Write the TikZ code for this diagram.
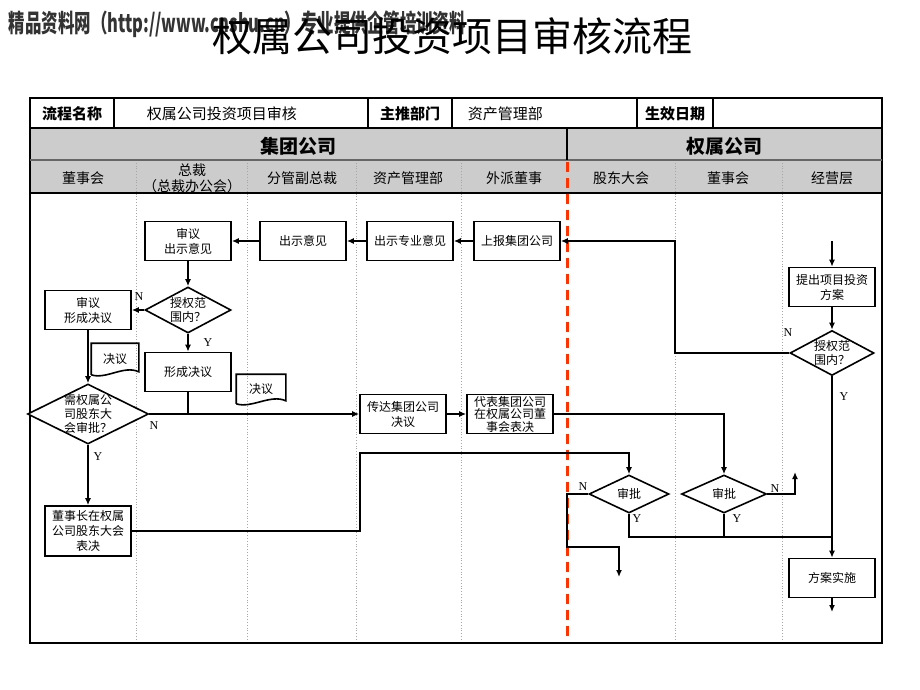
\documentclass[tikz,border=0pt]{standalone}
\usepackage{fontspec}
\setmainfont{Noto Sans CJK SC}
\newfontfamily\ynfont{Liberation Serif}
\usetikzlibrary{arrows.meta,calc,positioning,shapes.geometric}
\definecolor{dashred}{RGB}{255,51,0}

\begin{document}
\begin{tikzpicture}[
    x=1pt, y=-1pt, line width=1.6pt, >={Latex[length=7pt,width=6pt]},
    proc/.style={draw, fill=white, minimum width=86pt, minimum height=39pt,
      inner sep=1pt, align=center, font=\fontsize{12}{15}\selectfont},
    dec/.style={draw, fill=white, diamond, inner sep=0pt},
    dtxt/.style={align=center, inner sep=0pt, font=\fontsize{12}{14}\selectfont},
    doc/.style={inner sep=0pt, minimum width=46pt, minimum height=30pt,
      font=\fontsize{12}{14}\selectfont},
    yn/.style={inner sep=0pt, font=\ynfont\fontsize{12}{12}\selectfont},
    head/.style={inner sep=0pt, font=\bfseries\fontsize{15}{15}\selectfont},
    lane/.style={inner sep=0pt, align=center, font=\fontsize{14}{16}\selectfont},
    sep/.style={draw=gray!70, line width=0.8pt, dotted},
  ]

  \useasboundingbox (0,0) rectangle (920,690);

  % title
  \node[anchor=west, inner sep=0pt, text=black!80,
    font=\bfseries\fontsize{25}{25}\selectfont] (wm) at (8,24)
    {\resizebox{457pt}{\height}{精品资料网（http://www.cnshu.cn）专业提供企管培训资料}};
  \node[inner sep=0pt, font=\fontsize{40}{40}\selectfont] (title) at (452,36)
    {权属公司投资项目审核流程};

  % table
  \fill[black!20] (30,128) rectangle (882,193);
  \foreach \x in {136,247,356,461,675,782}
    \draw[sep] (\x,160) -- (\x,643);
  \draw[dashred, line width=3pt, dash pattern=on 10pt off 6pt] (567,162) -- (567,637);
  \draw[line width=2.4pt] (30,98) rectangle (882,643);
  \draw (30,128) -- (882,128);
  \draw[line width=1.2pt, black!60] (30,160) -- (882,160);
  \draw[line width=2pt] (30,193) -- (882,193);
  \foreach \x in {114,368,452,637,713}
    \draw[line width=1.2pt] (\x,98) -- (\x,128);
  \draw[line width=1.2pt] (567,128) -- (567,160);

  \node[head] (h1) at (72,114) {流程名称};
  \node[lane, anchor=west, font=\fontsize{15}{15}\selectfont] (h2) at (146,114) {权属公司投资项目审核};
  \node[head] (h3) at (410,114) {主推部门};
  \node[lane, anchor=west, font=\fontsize{15}{15}\selectfont] (h4) at (467,114) {资产管理部};
  \node[head] (h5) at (675,114) {生效日期};
  \node[head, font=\bfseries\fontsize{19}{19}\selectfont] (g1) at (298,146) {集团公司};
  \node[head, font=\bfseries\fontsize{19}{19}\selectfont] (g2) at (724,146) {权属公司};

  \node[lane] (l1) at (83,178) {董事会};
  \node[lane] (l2) at (192,178) {总裁\\（总裁办公会）};
  \node[lane] (l3) at (302,178) {分管副总裁};
  \node[lane] (l4) at (408,178) {资产管理部};
  \node[lane] (l5) at (514,178) {外派董事};
  \node[lane] (l6) at (621,178) {股东大会};
  \node[lane] (l7) at (728,178) {董事会};
  \node[lane] (l8) at (832,178) {经营层};

  % group
  \node[proc] (sy1) at (188,241) {审议\\出示意见};
  \node[proc] (csyj) at (303,241) {出示意见};
  \node[proc] (czzy) at (410,241) {出示专业意见};
  \node[proc] (sbjt) at (517,241) {上报集团公司};
  \node[dec, minimum width=86pt, minimum height=46pt,
    label={[dtxt]center:授权范\\围内？}] (d1) at (188,310) {};
  \node[proc] (sy2) at (88,310) {审议\\形成决议};
  \node[proc] (xcjy) at (188,372) {形成决议};
  \node[doc] (jy1) at (115,359) {决议};
  \node[doc, minimum width=48pt, minimum height=28pt] (jy2) at (261,389) {决议};
  \node[dec, minimum width=121pt, minimum height=60pt,
    label={[dtxt]center:需权属公\\司股东大\\会审批？}] (d2) at (88,414) {};
  \node[proc] (cdjt) at (403,414) {传达集团公司\\决议};
  \node[proc, font=\fontsize{12}{12.5}\selectfont] (dbjt) at (510,414)
    {代表集团公司\\在权属公司董\\事会表决};
  \node[proc, minimum height=50pt] (dsz) at (88,531) {董事长在权属\\公司股东大会\\表决};

  % subsidiary
  \node[dec, minimum width=80pt, minimum height=38pt,
    label={[dtxt]center:审批}] (sp1) at (629,494) {};
  \node[dec, minimum width=85pt, minimum height=38pt,
    label={[dtxt]center:审批}] (sp2) at (724,494) {};
  \node[proc] (tcxm) at (832,287) {提出项目投资\\方案};
  \node[dec, minimum width=84pt, minimum height=45pt,
    label={[dtxt]center:授权范\\围内？}] (d3) at (832,353) {};
  \node[proc] (fass) at (832,578) {方案实施};

  \foreach \d in {jy1,jy2}
    \draw (\d.south west) -- (\d.north west) -- (\d.north east)
      -- ($(\d.south east)+(0,-3)$) .. controls +(-15,-7) and +(15,5) .. (\d.south west);

  \coordinate (c1) at (360,453);
  \coordinate (n1) at (567,547);
  \coordinate (e1) at (619,577);
  \coordinate (e2) at (795,472);
  \coordinate (j1) at (832,537);
  \coordinate (s0) at (832,241);
  \coordinate (t1) at (675,353);
  \coordinate (e3) at (832,612);

  \draw[->] (sbjt) -- (czzy);
  \draw[->] (czzy) -- (csyj);
  \draw[->] (csyj) -- (sy1);
  \draw[->] (sy1) -- (d1);
  \draw[->] (d1) -- (sy2);
  \draw[->] (d1) -- (xcjy);
  \draw[->] (sy2) -- (d2);
  \draw (xcjy) -- (xcjy |- d2);
  \draw[->] (d2) -- (cdjt);
  \draw[->] (d2) -- (dsz);
  \draw[->] (cdjt) -- (dbjt);
  \draw[->] (dbjt) -| (sp2);
  \draw[->] (dsz) -| (c1) -| (sp1);
  \draw[->] (sp1) -| (n1) -| (e1);
  \draw (sp1) |- (j1);
  \draw (sp2) |- (j1);
  \draw[->] (sp2) -| (e2);
  \draw[->] (s0) -- (tcxm);
  \draw[->] (tcxm) -- (d3);
  \draw[->] (d3) -- (t1) |- (sbjt);
  \draw[->] (d3) -- (fass);
  \draw[->] (fass) -- (e3);

  \node[yn] (y1) at (139,297) {N};
  \node[yn] (y2) at (208,343) {Y};
  \node[yn] (y3) at (154,426) {N};
  \node[yn] (y4) at (98,457) {Y};
  \node[yn] (y5) at (788,333) {N};
  \node[yn] (y6) at (844,397) {Y};
  \node[yn] (y7) at (583,487) {N};
  \node[yn] (y8) at (637,519) {Y};
  \node[yn] (y9) at (737,519) {Y};
  \node[yn] (y10) at (775,489) {N};

\end{tikzpicture}
\end{document}
